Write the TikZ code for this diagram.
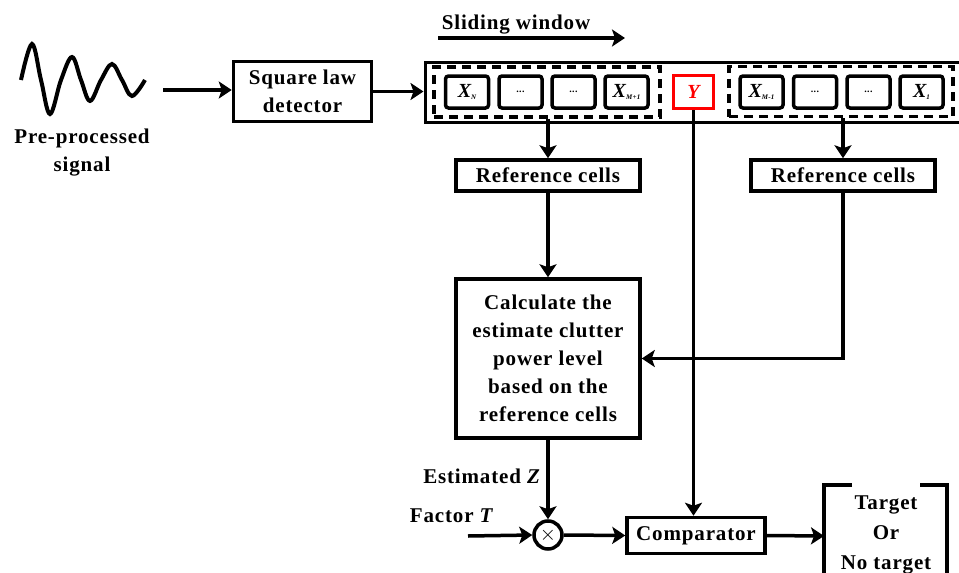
\documentclass[tikz,border=0pt]{standalone}
\usepackage{fontspec}
\setmainfont[LetterSpace=4]{Liberation Serif}
\usetikzlibrary{arrows.meta}
\begin{document}
\begin{tikzpicture}[x=1pt,y=-1pt,
  every node/.style={font=\fontsize{21}{28}\selectfont\bfseries, inner sep=0pt},
  box/.style={draw, line width=3.5pt, inner sep=0pt, align=center},
  cell/.style={draw, line width=3.5pt, rounded corners=3pt, minimum width=43pt, minimum height=32pt, inner sep=0pt, font=\fontsize{20}{20}\selectfont\bfseries\itshape},
  arr/.style={line width=3.5pt, -{Stealth[length=13pt,width=17pt,inset=3pt]}},
  ln/.style={line width=3.5pt},
  dsh/.style={draw, line width=3.5pt, dash pattern=on 9pt off 6pt, inner sep=0pt}]
\newcommand\cellx[1]{\raisebox{-4pt}{X\raisebox{-2pt}{\fontsize{7}{7}\selectfont #1}}}
\newcommand\celldots{\raisebox{-2pt}{\upshape\fontsize{10}{10}\selectfont ...}}
\useasboundingbox (0,0) rectangle (959,573);
\begin{scope}
\clip (0,0) rectangle (959,573);
% wave
\draw[line width=4pt] plot[smooth, tension=0.6] coordinates {(21,80) (32,44) (41,80) (50,114) (61,80) (72,57) (81,80) (90,101) (101,80) (112,64) (122,80) (132,96) (145,80)};
\node[align=center] (sig) at (82,153) {Pre-processed\\signal};
\coordinate (sigout) at (163,90);
% square law detector
\node[box, minimum width=138pt, minimum height=60pt] (det) at (302.5,91.5) {Square law\\detector};
% strip
\node[draw, line width=3pt, minimum width=575pt, minimum height=60pt] (strip) at (712.5,92) {};
\node[dsh, minimum width=226pt, minimum height=50pt] (dl) at (547,92) {};
\node[dsh, minimum width=224pt, minimum height=50pt] (dr) at (841,91.5) {};
% cells
\node[cell] (c1) at (467,92) {\cellx{N}};
\node[cell] (c2) at (520.5,92) {\celldots};
\node[cell] (c3) at (573.5,92) {\celldots};
\node[cell] (c4) at (626.5,92) {\cellx{M+1}};
\node[draw=red, line width=3pt, minimum width=40pt, minimum height=33pt, text=red, font=\fontsize{20}{20}\selectfont\bfseries\itshape] (Y) at (693.5,92) {Y};
\node[cell] (c5) at (761.5,92) {\cellx{M-1}};
\node[cell] (c6) at (815,92) {\celldots};
\node[cell] (c7) at (868.5,92) {\celldots};
\node[cell] (c8) at (921.5,92) {\cellx{1}};
% sliding window
\node (sw) at (516,25) {Sliding window};
\coordinate (swa) at (438,38);
\coordinate (swb) at (625,38);
\draw[arr] (swa) -- (swb);
% reference cells
\node[box, minimum width=184pt, minimum height=31pt] (refL) at (548,175.5) {Reference cells};
\node[box, minimum width=184pt, minimum height=31pt] (refR) at (843,175.5) {Reference cells};
% calc
\node[box, minimum width=184pt, minimum height=159pt] (calc) at (548,358.5) {Calculate the\\estimate clutter\\power level\\based on the\\reference cells};
% multiplier
\node[draw, circle, line width=3.5pt, minimum size=28pt] (mult) at (548,535) {\raisebox{-3pt}{$\times$}};
\node (estz) at (482,476) {Estimated \textit{Z}};
\node (fact) at (452,516) {Factor \textit{T}};
\coordinate (fin) at (468,536);
% comparator
\node[box, minimum width=138pt, minimum height=36pt] (comp) at (696,535.5) {Comparator};
% output bracket
\coordinate (bl) at (824,536);
\coordinate (bltop) at (824,485);
\coordinate (bltick) at (852,485);
\coordinate (blbot) at (824,600);
\coordinate (brtop) at (947,485);
\coordinate (brtick) at (920,485);
\coordinate (brbot) at (947,600);
\draw[ln] (bltick) -- (bltop) -- (blbot);
\draw[ln] (brtick) -- (brtop) -- (brbot);
\node[align=center, font=\fontsize{21}{30}\selectfont\bfseries] (out) at (886,535) {Target\\Or\\No target};
% connectors
\draw[arr] (sigout) -- (sigout -| det.west);
\draw[arr] (det.east) -- (det.east -| strip.west);
\draw[arr] (refL.north |- dl.south) -- (refL.north);
\draw[arr] (refR.north |- dr.south) -- (refR.north);
\draw[arr] (refL.south) -- (calc.north);
\draw[arr] (refR.south) |- (calc.east);
\draw[arr] (calc.south) -- (mult.north);
\draw[arr] (fin) -- (mult.west);
\draw[arr] (mult.east) -- (comp.west);
\draw[arr] (Y.south) -- (Y.south |- comp.north);
\draw[arr] (comp.east) -- (bl);
\end{scope}
\end{tikzpicture}
\end{document}
